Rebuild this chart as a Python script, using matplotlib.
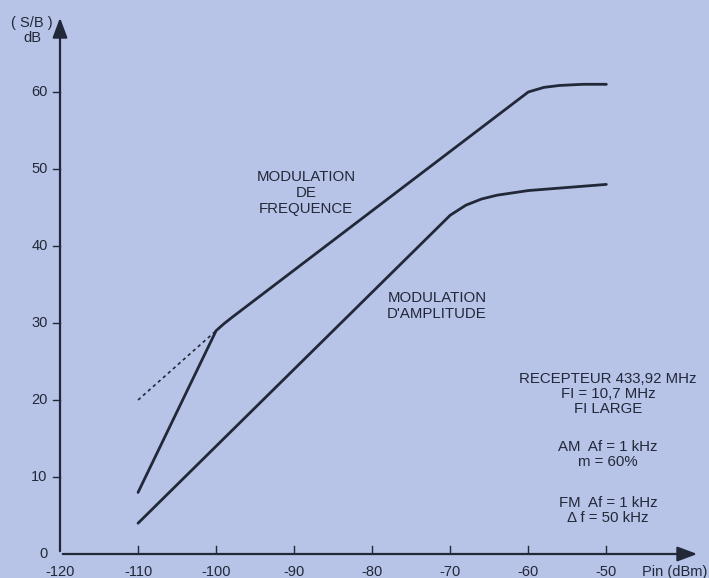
import matplotlib
matplotlib.use("Agg")
import matplotlib.pyplot as plt

# data
fm_x = [-110, -100, -99, -98, -60, -58, -56, -53, -50]
fm_y = [8, 29, 29.9, 30.7, 60, 60.6, 60.85, 61.0, 61.0]
fm_ext_x = [-110, -100]
fm_ext_y = [20, 29]
am_x = [-110, -70, -68, -66, -64, -60, -55, -50]
am_y = [4, 44, 45.3, 46.1, 46.6, 47.2, 47.6, 48.0]
xticks = [-120, -110, -100, -90, -80, -70, -60, -50]
yticks = [0, 10, 20, 30, 40, 50, 60]

bg = '#b7c4e8'
ink = '#222838'
plt.rcParams['font.family'] = ['Liberation Sans', 'DejaVu Sans']

fig = plt.figure(figsize=(7.09, 5.78), dpi=100, facecolor=bg)
ax = fig.add_axes([60 / 709, 24 / 578, 640 / 709, 539 / 578], facecolor=bg)
ax.set_xlim(-120, -38)
ax.set_ylim(0, 70)
for s in ax.spines.values():
    s.set_visible(False)
ax.set_xticks([])
ax.set_yticks([])

# axes with arrow heads
ax.annotate('', xy=(-38, 0), xytext=(-120, 0),
            arrowprops=dict(arrowstyle='-|>,head_length=1.2,head_width=0.45', color=ink, lw=1.6),
            annotation_clip=False)
ax.annotate('', xy=(-120, 70), xytext=(-120, 0),
            arrowprops=dict(arrowstyle='-|>,head_length=1.2,head_width=0.45', color=ink, lw=1.6),
            annotation_clip=False)

for t in xticks:
    if t > -120:
        ax.plot([t, t], [0, 1.1], color=ink, lw=1.0)
    ax.text(t, -1.4, str(t), ha='center', va='top', fontsize=10.5, color=ink, clip_on=False)
for t in yticks:
    if t > 0:
        ax.plot([-120.9, -120], [t, t], color=ink, lw=1.0, clip_on=False)
    ax.text(-121.6, t, str(t), ha='right', va='center', fontsize=10.5, color=ink, clip_on=False)

ax.text(-123.6, 68.0, '( S/B )\ndB', ha='center', va='center', fontsize=10.5, color=ink,
        linespacing=1.05, clip_on=False)
ax.text(-41.2, -1.4, 'Pin (dBm)', ha='center', va='top', fontsize=10.5, color=ink, clip_on=False)

ax.plot(fm_x, fm_y, color=ink, lw=2.0, solid_capstyle='round', solid_joinstyle='round')
ax.plot(fm_ext_x, fm_ext_y, color=ink, lw=1.2, linestyle=(0, (2, 2)))
ax.plot(am_x, am_y, color=ink, lw=2.0, solid_capstyle='round', solid_joinstyle='round')

ax.text(-88.5, 46.9, 'MODULATION\nDE\nFREQUENCE', ha='center', va='center', fontsize=10.8,
        color=ink, linespacing=1.15)
ax.text(-71.7, 32.2, 'MODULATION\nD\'AMPLITUDE', ha='center', va='center', fontsize=10.8,
        color=ink, linespacing=1.15)

ax.text(-49.8, 20.8, 'RECEPTEUR 433,92 MHz\nFI = 10,7 MHz\nFI LARGE', ha='center', va='center',
        fontsize=10.8, color=ink, linespacing=1.1)
ax.text(-49.8, 12.9, 'AM  Af = 1 kHz\nm = 60%', ha='center', va='center',
        fontsize=10.8, color=ink, linespacing=1.1)
ax.text(-49.8, 5.6, 'FM  Af = 1 kHz\n\u0394 f = 50 kHz', ha='center', va='center',
        fontsize=10.8, color=ink, linespacing=1.1)

fig.savefig('out.png', dpi=100, facecolor=bg)
